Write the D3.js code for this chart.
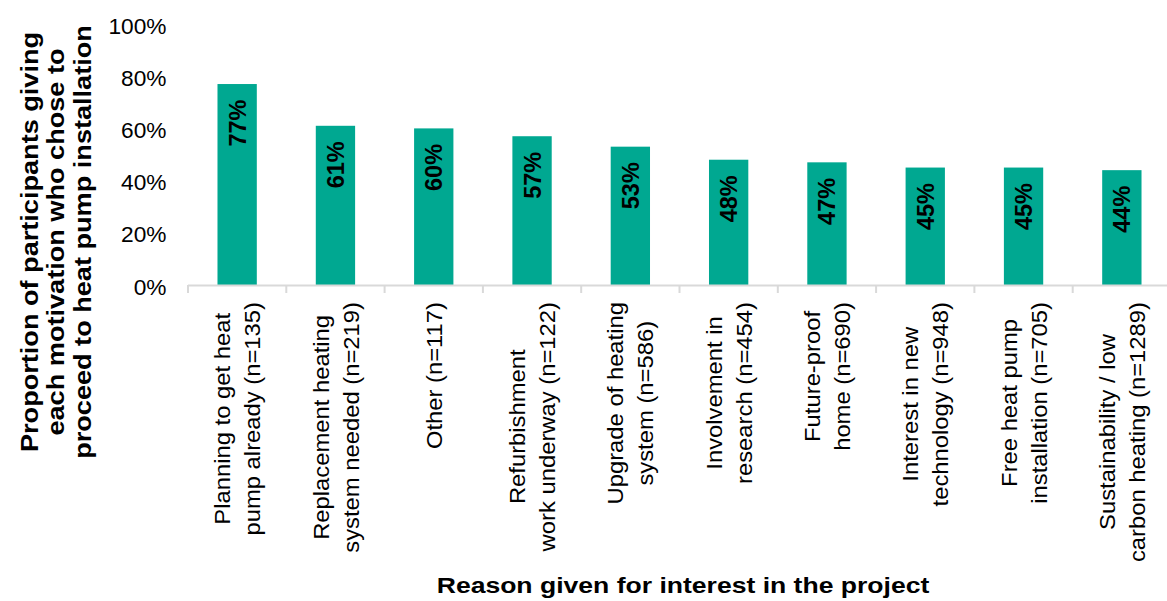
<!DOCTYPE html>
<html>
<head>
<meta charset="utf-8">
<script src="https://cdn.jsdelivr.net/npm/d3@7/dist/d3.min.js"></script>
<style>
  html, body { margin: 0; padding: 0; background: #fff; }
  svg { display: block; font-family: "Liberation Sans", Arial, sans-serif; }
</style>
</head>
<body>
<svg id="chart" width="1167" height="601"></svg>
<script>
// Motivation categories (each entry is the wrapped label lines)
const categoryLines = [
  ["Planning to get heat", "pump already (n=135)"],
  ["Replacement heating", "system needed (n=219)"],
  ["Other (n=117)"],
  ["Refurbishment", "work underway (n=122)"],
  ["Upgrade of heating", "system (n=586)"],
  ["Involvement in", "research (n=454)"],
  ["Future-proof", "home (n=690)"],
  ["Interest in new", "technology (n=948)"],
  ["Free heat pump", "installation (n=705)"],
  ["Sustainability / low", "carbon heating (n=1289)"]
];
// Share of participants with each motivation who proceeded (%)
const proportions = [77, 61, 60, 57, 53, 48, 47, 45, 45, 44];
const yTicks = [0, 20, 40, 60, 80, 100];
const yTitleLines = [
  "Proportion of participants giving",
  "each motivation who chose to",
  "proceed to heat pump installation"
];
const xTitle = "Reason given for interest in the project";

const FONT = "Liberation Sans, Arial, sans-serif";
const svg = d3.select("#chart");
const plot = { left: 188, right: 1171, top: 24, bottom: 285 };
const barColor = "#00a891";
const axisColor = "#d9d9d9";

const keys = categoryLines.map((_, i) => i);
const x = d3.scaleBand().domain(keys).range([plot.left, plot.right])
  .paddingInner(0.6).paddingOuter(0.3);
const y = d3.scaleLinear().domain([0, 100]).range([plot.bottom, plot.top]);

// Bars
svg.append("g").selectAll("rect").data(proportions).join("rect")
  .attr("x", (d, i) => x(i))
  .attr("y", d => y(d))
  .attr("width", x.bandwidth())
  .attr("height", d => y(0) - y(d))
  .attr("fill", barColor);

// Value labels inside the bars, rotated
svg.append("g").selectAll("text").data(proportions).join("text")
  .attr("transform", (d, i) => `translate(${x(i) + x.bandwidth() / 2},${y(d) + 15.5}) rotate(-90)`)
  .attr("text-anchor", "end")
  .attr("dy", "0.36em")
  .attr("font-family", FONT)
  .style("font-size", "23.5px")
  .style("font-weight", "bold")
  .attr("fill", "#000")
  .text(d => d + "%");

// Y axis: labels only
const yAxis = d3.axisLeft(y).tickValues(yTicks).tickFormat(d => d + "%").tickSize(0).tickPadding(0);
const yg = svg.append("g").attr("transform", `translate(166.5,0)`).call(yAxis);
yg.select(".domain").remove();
yg.selectAll("text").style("font-size", "22.7px").attr("fill", "#000")
  .attr("dy", "0.4em")
  .attr("font-family", FONT);

// X axis: baseline with boundary ticks between categories
const gap = (x.step() - x.bandwidth()) / 2;
const boundaries = keys.map(i => x(i) - gap).concat([x(keys.length - 1) + x.bandwidth() + gap]);
const xg = svg.append("g");
xg.append("line")
  .attr("x1", boundaries[0]).attr("x2", boundaries[boundaries.length - 1])
  .attr("y1", y(0) + 0.5).attr("y2", y(0) + 0.5)
  .attr("stroke", axisColor).attr("stroke-width", 2);
xg.selectAll("line.tick").data(boundaries).join("line")
  .attr("class", "tick")
  .attr("x1", d => d).attr("x2", d => d)
  .attr("y1", y(0)).attr("y2", y(0) + 8)
  .attr("stroke", axisColor).attr("stroke-width", 2);

// Category labels: rotated blocks anchored under the axis, lines centred within a block
const labelSize = 22.5, labelStretch = 1.058;
const lineGap = 30;
const labelTop = 302;
categoryLines.forEach((lines, i) => {
  const cx = x(i) + x.bandwidth() / 2;
  const g = svg.append("g");
  const texts = lines.map(ln => g.append("text")
    .attr("font-family", FONT)
    .style("font-size", labelSize + "px").attr("fill", "#000").text(ln));
  const maxLen = d3.max(texts, t => t.node().getComputedTextLength()) * labelStretch;
  const n = lines.length;
  texts.forEach((t, j) => {
    const off = (j - (n - 1) / 2) * lineGap;
    t.attr("text-anchor", "middle")
      .attr("dy", "0.36em")
      .attr("transform",
        `translate(${cx + off},${labelTop + maxLen / 2}) rotate(-90) scale(${labelStretch},1)`);
  });
});

// Axis titles
const yt = svg.append("text")
  .attr("transform", `translate(0,242) rotate(-90) scale(1.13,1)`)
  .attr("text-anchor", "middle")
  .attr("font-family", FONT)
  .style("font-size", "24px").style("font-weight", "bold").attr("fill", "#000");
yTitleLines.forEach((ln, j) => {
  yt.append("tspan").attr("x", 0).attr("y", 38 + j * 26.5).text(ln);
});

svg.append("text")
  .attr("transform", `translate(683,593) scale(1.17,1)`)
  .attr("text-anchor", "middle")
  .attr("font-family", FONT)
  .style("font-size", "22.7px").style("font-weight", "bold").attr("fill", "#000")
  .text(xTitle);
</script>
</body>
</html>
